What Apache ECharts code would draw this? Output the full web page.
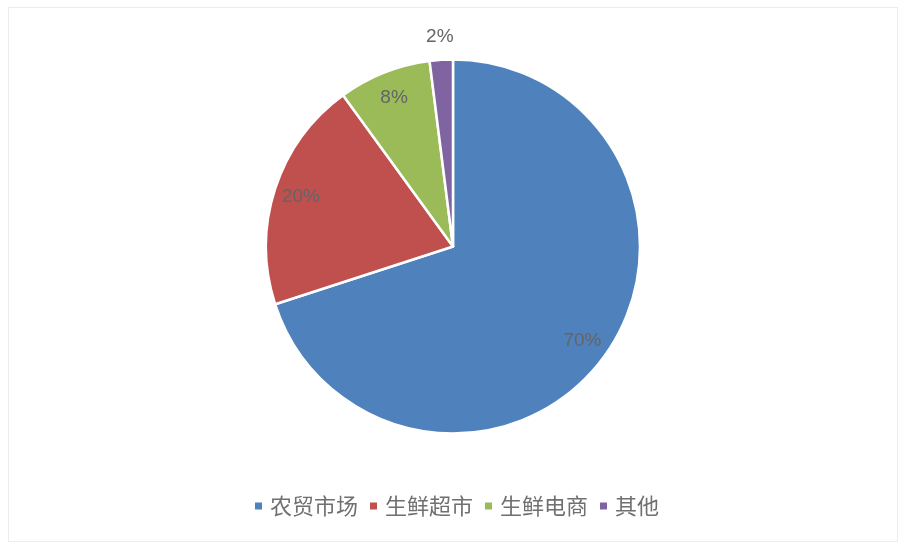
<!DOCTYPE html>
<html>
<head>
<meta charset="utf-8">
<script src="https://cdn.jsdelivr.net/npm/echarts@6/dist/echarts.min.js"></script>
<style>
html,body{margin:0;padding:0;background:#fff;}
#frame{position:absolute;left:8px;top:7px;width:890px;height:535px;border:1px solid #ececec;box-sizing:border-box;}
#main{width:912px;height:558px;position:absolute;left:0;top:0;}
</style>
</head>
<body>
<div id="frame"></div>
<div id="main"></div>
<script>
const categories = ['农贸市场', '生鲜超市', '生鲜电商', '其他'];
const values = [70, 20, 8, 2];
const colors = ['#4F81BD', '#C0504D', '#9BBB59', '#8064A2'];

const chart = echarts.init(document.getElementById('main'), null, {renderer: 'canvas'});
const data = categories.map((c, i) => ({name: c, value: values[i], itemStyle: {color: colors[i]}}));
const labelFont = {fontFamily: 'Liberation Sans', fontSize: 19, color: '#646464'};
const center = [453, 246.5];

chart.setOption({
  animation: false,
  legend: {
    bottom: 36,
    left: 'center',
    itemWidth: 9,
    itemHeight: 9,
    itemGap: 10,
    icon: 'rect',
    textStyle: {fontFamily: 'Noto Sans CJK SC', fontSize: 22, color: '#707070', padding: [0, 0, 0, 2]},
    data: categories
  },
  series: [
    {
      type: 'pie',
      center: center,
      radius: [0, 187],
      startAngle: 90,
      clockwise: true,
      label: {show: false},
      labelLine: {show: false},
      itemStyle: {borderColor: '#fff', borderWidth: 2.5},
      data: data
    },
    {
      type: 'pie',
      center: center,
      radius: [127, 187],
      startAngle: 90,
      clockwise: true,
      silent: true,
      legendHoverLink: false,
      itemStyle: {color: 'rgba(0,0,0,0)'},
      label: Object.assign({show: true, position: 'inside', formatter: p => p.value + '%'}, labelFont),
      labelLine: {show: false},
      data: categories.map((c, i) => ({name: c + ' ', value: values[i], label: {show: i < 3}}))
    },
    {
      type: 'pie',
      center: center,
      radius: [195, 219],
      startAngle: 90,
      clockwise: true,
      silent: true,
      legendHoverLink: false,
      itemStyle: {color: 'rgba(0,0,0,0)'},
      label: Object.assign({show: true, position: 'inside', formatter: p => p.value + '%'}, labelFont),
      labelLine: {show: false},
      data: categories.map((c, i) => ({name: c + '  ', value: values[i], label: {show: i === 3}}))
    }
  ]
});
</script>
</body>
</html>
